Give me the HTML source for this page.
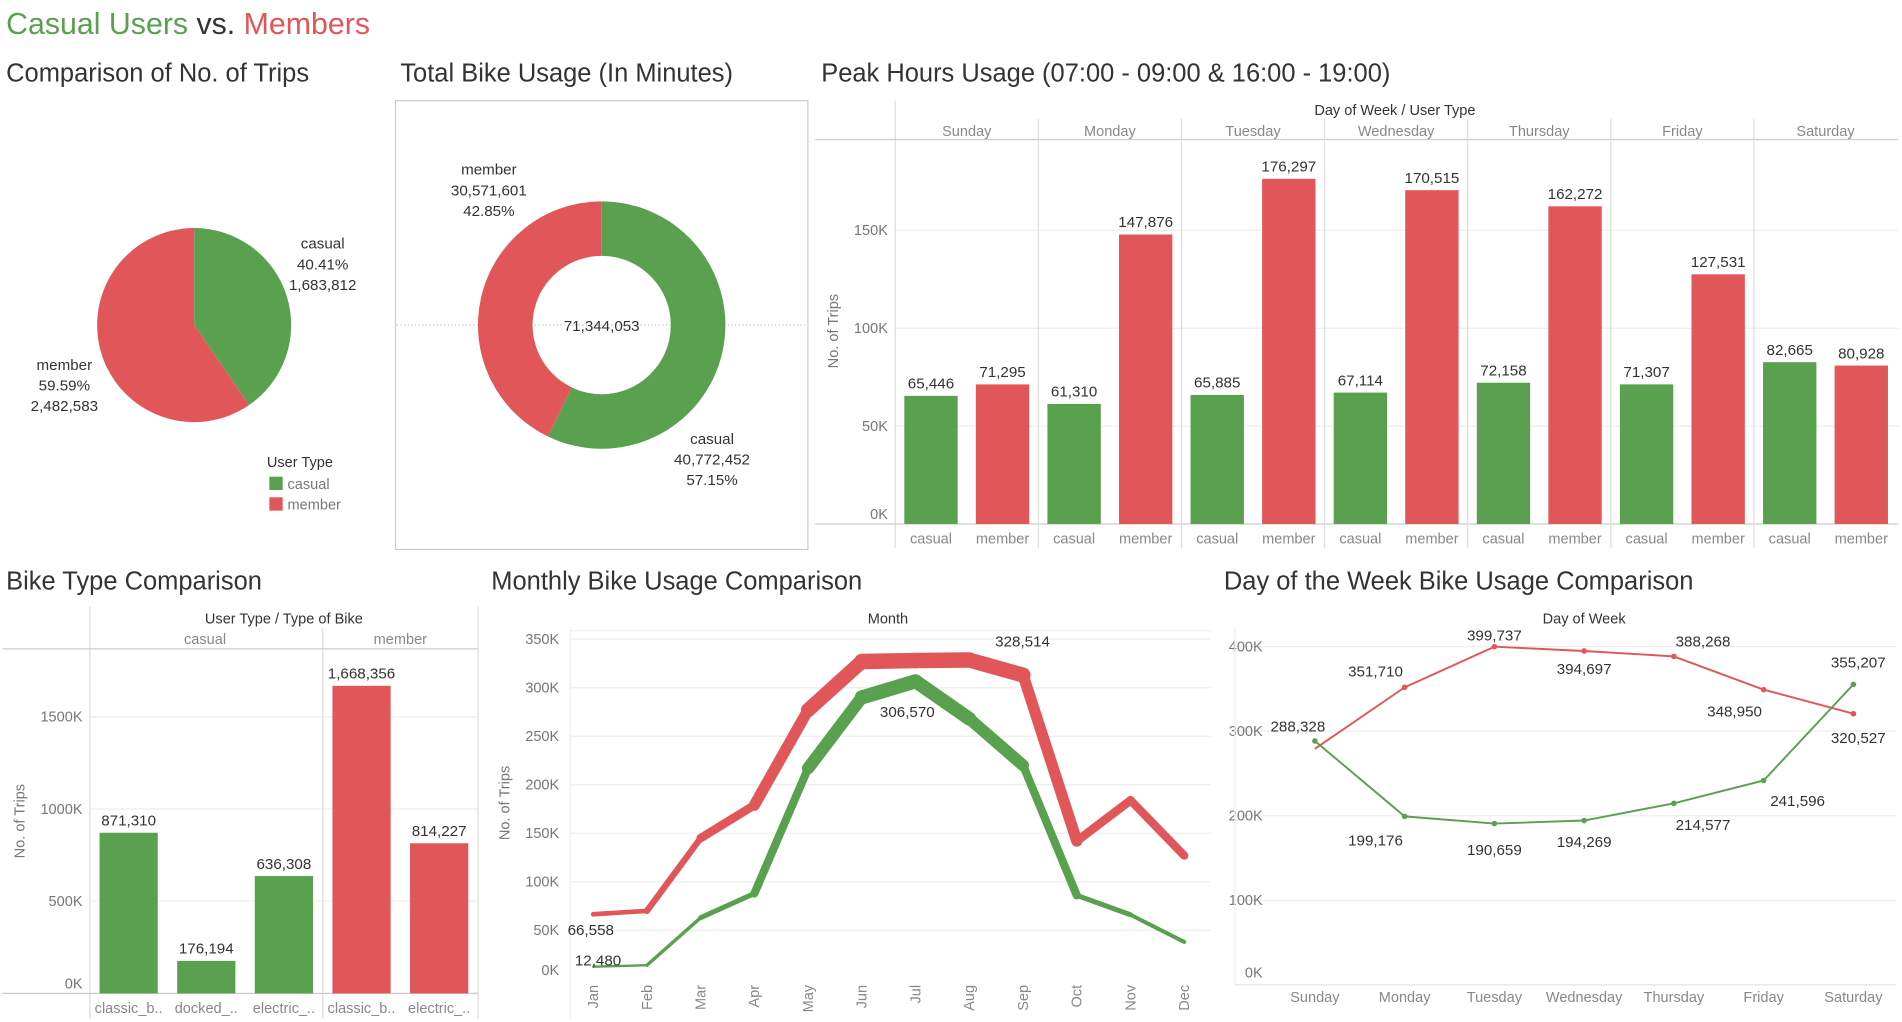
<!DOCTYPE html>
<html><head><meta charset="utf-8"><style>
html,body{margin:0;padding:0;background:#fff;}
svg{display:block;font-family:"Liberation Sans",sans-serif;}
.tt{font-size:21px;fill:#333;}
.ax{font-size:12px;fill:#777;}
.vl{font-size:12.5px;fill:#333;}
.hd{font-size:12px;fill:#333;}
.hs{font-size:12px;fill:#888;}
</style></head><body>
<svg id="s" width="1902" height="1022" viewBox="0 0 1568 842.6" xmlns="http://www.w3.org/2000/svg">
<text x="5" y="28" style="font-size:25px"><tspan fill="#59a14f">Casual Users</tspan><tspan fill="#333"> vs. </tspan><tspan fill="#e15759">Members</tspan></text>
<text class="tt" x="5" y="67">Comparison of No. of Trips</text>
<text class="tt" x="330" y="67">Total Bike Usage (In Minutes)</text>
<text class="tt" x="677" y="67">Peak Hours Usage  (07:00 - 09:00 &amp; 16:00 - 19:00)</text>
<text class="tt" x="5" y="486">Bike Type Comparison</text>
<text class="tt" x="405" y="486">Monthly Bike Usage Comparison</text>
<text class="tt" x="1009" y="486">Day of the Week Bike Usage Comparison</text>
<g id="legend">
<text class="hd" x="220" y="385">User Type</text>
<rect x="222" y="393" width="11" height="11" fill="#59a14f"/><text class="ax" x="237" y="403" fill="#555">casual</text>
<rect x="222" y="410" width="11" height="11" fill="#e15759"/><text class="ax" x="237" y="420" fill="#555">member</text>
</g>
<rect x="326" y="83" width="340" height="370" fill="none" stroke="#ccc"/>
<line x1="327" y1="268" x2="665" y2="268" stroke="#bbb" stroke-dasharray="1,2"/>
</svg>
<script>
const G='#59a14f',R='#e15759';
const pieLabels=['casual','member'];
const pieValues=[1683812,2482583];
const donutValues=[40772452,30571601];
const days=['Sunday','Monday','Tuesday','Wednesday','Thursday','Friday','Saturday'];
const peakCasual=[65446,61310,65885,67114,72158,71307,82665];
const peakMember=[71295,147876,176297,170515,162272,127531,80928];
const peakTicks=[0,50000,100000,150000];
const bikeCats=['classic_b..','docked_..','electric_..','classic_b..','electric_..'];
const bikeGroups=['casual','casual','casual','member','member'];
const bikeValues=[871310,176194,636308,1668356,814227];
const bikeTicks=[0,500000,1000000,1500000];
const months=['Jan','Feb','Mar','Apr','May','Jun','Jul','Aug','Sep','Oct','Nov','Dec'];
const monthMember=[66558,70000,145000,179000,277000,327000,328000,328514,313000,142000,184000,127000];
const monthCasual=[12480,14000,63000,88000,217000,290000,306570,268000,220000,86000,66000,38000];
const monthTicks=[0,50000,100000,150000,200000,250000,300000,350000];
const dowMember=[279000,351710,399737,394697,388268,348950,320527];
const dowCasual=[288328,199176,190659,194269,214577,241596,355207];
const dowTicks=[0,100000,200000,300000,400000];
const NS='http://www.w3.org/2000/svg';
const svg=document.getElementById('s');
function el(t,a,p){const e=document.createElementNS(NS,t);for(const k in a)e.setAttribute(k,a[k]);(p||svg).appendChild(e);return e;}
function tx(x,y,s,cls,anchor,p){const e=el('text',{x:x,y:y,class:cls,'text-anchor':anchor||'middle'},p);e.textContent=s;return e;}
const fmt=v=>v.toLocaleString('en-US');
function arc(cx,cy,r0,r1,a0,a1){
 const p=(r,a)=>[cx+r*Math.sin(a),cy-r*Math.cos(a)];const lg=(a1-a0)>Math.PI?1:0;
 const [x0,y0]=p(r1,a0),[x1,y1]=p(r1,a1);
 if(r0===0)return `M${cx},${cy}L${x0},${y0}A${r1},${r1} 0 ${lg} 1 ${x1},${y1}Z`;
 const [x2,y2]=p(r0,a1),[x3,y3]=p(r0,a0);
 return `M${x0},${y0}A${r1},${r1} 0 ${lg} 1 ${x1},${y1}L${x2},${y2}A${r0},${r0} 0 ${lg} 0 ${x3},${y3}Z`;}
// pie
{const tot=pieValues[0]+pieValues[1];let a=0;const g=el('g',{});
 
 
 pieValues.forEach((v,i)=>{const b=a+v/tot*2*Math.PI;const s=el('path',{d:arc(160,268,0,80,a,b),fill:i?R:G},g);
 
 a=b;});
 const pc=v=>(v/tot*100).toFixed(2)+'%';
 [[266,205,'casual'],[266,222,pc(pieValues[0])],[266,239,fmt(pieValues[0])]].forEach(t=>tx(t[0],t[1],t[2],'vl','middle',g));
 [[53,305,'member'],[53,322,pc(pieValues[1])],[53,339,fmt(pieValues[1])]].forEach(t=>tx(t[0],t[1],t[2],'vl','middle',g));}
// donut
{const tot=donutValues[0]+donutValues[1];let a=0;const g=el('g',{});
 
 
 donutValues.forEach((v,i)=>{const b=a+v/tot*2*Math.PI;const s=el('path',{d:arc(496,268,57,102,a,b),fill:i?R:G},g);
 
 a=b;});
 tx(496,273,fmt(tot),'vl','middle',g);
 const pc=v=>(v/tot*100).toFixed(2)+'%';
 [[403,144,'member'],[403,161,fmt(donutValues[1])],[403,178,pc(donutValues[1])]].forEach(t=>tx(t[0],t[1],t[2],'vl','middle',g));
 [[587,366,'casual'],[587,383,fmt(donutValues[0])],[587,400,pc(donutValues[0])]].forEach(t=>tx(t[0],t[1],t[2],'vl','middle',g));}
// peak hours
{const g=el('g',{});
 
 
 const X0=738,W=118,Y0=432,k=80.7/50000,y=v=>Y0-v*k;
 peakTicks.forEach(t=>{if(t>0)el('line',{x1:X0,x2:1565,y1:y(t),y2:y(t),stroke:'#eee'},g);
  const l=tx(732,t===0?y(t)-4:y(t)+4,(t/1000)+'K','ax','end',g);
  
  });
 const yt=tx(0,0,'No. of Trips','ax','middle',g);yt.setAttribute('transform','translate(691,273) rotate(-90)');yt.setAttribute('fill','#444');
 
 
 tx(1150,95,'Day of Week  /  User Type','hd','middle',g);
 el('line',{x1:X0,x2:X0,y1:83,y2:452,stroke:'#ddd'},g);
 el('line',{x1:672,x2:1565,y1:115,y2:115,stroke:'#ccc'},g);
 el('line',{x1:672,x2:1565,y1:432,y2:432,stroke:'#ccc'},g);
 days.forEach((d,i)=>{const x=X0+i*W;
  if(i>0)el('line',{x1:x,x2:x,y1:98,y2:452,stroke:'#ddd'},g);
  tx(x+W/2,112,d,'hs','middle',g);
  [[peakCasual[i],G,29.5,'casual'],[peakMember[i],R,88.5,'member']].forEach(b=>{
   const r=el('rect',{x:x+b[2]-22,y:y(b[0]),width:44,height:b[0]*k,fill:b[1]},g);
   
   
   tx(x+b[2],y(b[0])-6,fmt(b[0]),'vl','middle',g);
   tx(x+b[2],448,b[3],'hs','middle',g);});});}
// bike type
{const g=el('g',{});
 
 
 const X0=74,W=64,Y0=819,k=76/500000,y=v=>Y0-v*k;
 bikeTicks.forEach(t=>{if(t>0)el('line',{x1:X0,x2:394,y1:y(t),y2:y(t),stroke:'#eee'},g);
  const l=tx(68,t===0?y(t)-4:y(t)+4,(t/1000)+'K','ax','end',g);
  
  });
 const yt=tx(0,0,'No. of Trips','ax','middle',g);yt.setAttribute('transform','translate(20,677) rotate(-90)');yt.setAttribute('fill','#444');
 
 
 tx(234,514,'User Type  /  Type of Bike','hd','middle',g);
 tx(169,531,'casual','hs','middle',g);tx(330,531,'member','hs','middle',g);
 el('line',{x1:X0,x2:X0,y1:500,y2:840,stroke:'#ddd'},g);
 el('line',{x1:266,x2:266,y1:518,y2:840,stroke:'#ddd'},g);
 el('line',{x1:394,x2:394,y1:500,y2:840,stroke:'#ddd'},g);
 el('line',{x1:2,x2:394,y1:535,y2:535,stroke:'#ccc'},g);
 el('line',{x1:2,x2:394,y1:Y0,y2:Y0,stroke:'#ccc'},g);
 bikeValues.forEach((v,i)=>{const cx=X0+W*i+W/2;
  const r=el('rect',{x:cx-24,y:y(v),width:48,height:v*k,fill:bikeGroups[i]==='casual'?G:R},g);
  
  
  tx(cx,y(v)-6,fmt(v),'vl','middle',g);
  tx(cx,835,bikeCats[i],'hs','middle',g);});}
// monthly
{const g=el('g',{});
 
 
 const Y0=807,k=40/50000,y=v=>Y0-v*k,x=i=>489+i*44.3;
 monthTicks.forEach(t=>{if(t>0)el('line',{x1:470,x2:998,y1:y(t),y2:y(t),stroke:'#eee'},g);
  const l=tx(461,t===0?y(t)-3:y(t)+4,(t/1000)+'K','ax','end',g);
  
  });
 const yt=tx(0,0,'No. of Trips','ax','middle',g);yt.setAttribute('transform','translate(420,662) rotate(-90)');yt.setAttribute('fill','#444');
 
 
 tx(732,514,'Month','hd','middle',g);
 el('line',{x1:470,x2:470,y1:518,y2:840,stroke:'#eee'},g);
 el('line',{x1:470,x2:998,y1:520,y2:520,stroke:'#eee'},g);
 months.forEach((m,i)=>{const l=tx(0,0,m,'hs','end',g);l.setAttribute('transform',`translate(${x(i)+4},812) rotate(-90)`);
  
  });
 [[monthMember,R,'member'],[monthCasual,G,'casual']].forEach(s=>{
  const sg=el('g',{},g);
  
  
  for(let i=0;i<s[0].length-1;i++){const w=1.5+(s[0][i]+s[0][i+1])/2/320000*11;
   el('line',{x1:x(i),y1:y(s[0][i]),x2:x(i+1),y2:y(s[0][i+1]),stroke:s[1],'stroke-width':w,'stroke-linecap':'round'},sg);}});
 tx(487,771,fmt(monthMember[0]),'vl','middle',g);
 tx(493,796,fmt(monthCasual[0]),'vl','middle',g);
 tx(843,533,fmt(monthMember[7]),'vl','middle',g);
 tx(748,591,fmt(monthCasual[6]),'vl','middle',g);}
// day of week
{const g=el('g',{});
 
 
 const Y0=812,k=69.75/100000,y=v=>Y0-v*k,x=i=>1084+i*74;
 dowTicks.forEach(t=>{el('line',{x1:1018,x2:1563,y1:y(t),y2:y(t),stroke:t?'#eee':'#e4e4e4'},g);
  const l=tx(1041,t===0?y(t)-6:y(t)+4,(t/1000)+'K','ax','end',g);
  
  });
 el('line',{x1:1018,x2:1018,y1:518,y2:812,stroke:'#eee'},g);
 tx(1306,514,'Day of Week','hd','middle',g);
 days.forEach((d,i)=>tx(x(i),826,d,'hs','middle',g));
 const offM=[null,[-24,-9],[0,-5],[0,19],[24,-8],[-24,22],[4,24]];
 const offC=[[-14,-8],[-24,24],[0,26],[0,22],[24,22],[28,21],[4,-14]];
 [[dowMember,R,'member',offM],[dowCasual,G,'casual',offC]].forEach(s=>{
  const sg=el('g',{},g);
  
  
  el('polyline',{points:s[0].map((v,i)=>x(i)+','+y(v)).join(' '),fill:'none',stroke:s[1],'stroke-width':1.6},sg);
  s[0].forEach((v,i)=>{if(i>0||s[2]==='casual')el('circle',{cx:x(i),cy:y(v),r:2.3,fill:s[1]},sg);
   if(s[3][i])tx(x(i)+s[3][i][0],y(v)+s[3][i][1],fmt(v),'vl','middle',g);});});}
</script>
</body></html>
